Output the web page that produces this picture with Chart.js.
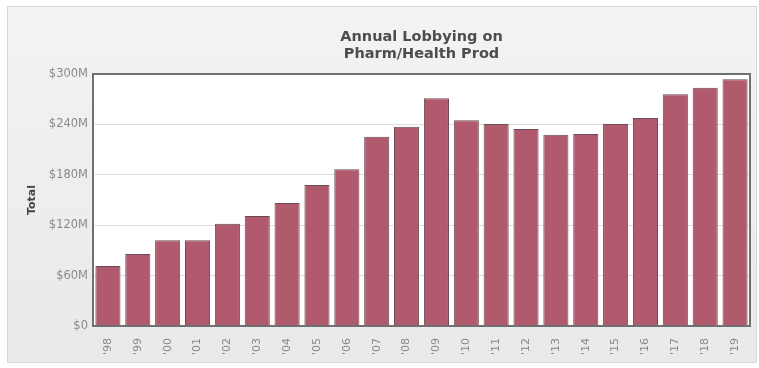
<!DOCTYPE html>
<html>
<head>
<meta charset="utf-8">
<script src="https://cdn.jsdelivr.net/npm/chart.js@4"></script>
<style>
  html, body { margin: 0; padding: 0; background: #fff; }
  #wrap { width: 759px; height: 368px; }
</style>
</head>
<body>
<div id="wrap"><canvas id="chart" width="759" height="368"></canvas></div>
<script>
// --- Daten ---
const years = ["'98","'99","'00","'01","'02","'03","'04","'05","'06","'07","'08",
               "'09","'10","'11","'12","'13","'14","'15","'16","'17","'18","'19"];
// Millionen USD
const totals = [71.4, 85.7, 102, 102, 121.8, 131, 146.4, 168, 186.5, 225.4, 237.3,
                271, 245, 240.5, 234.5, 227.8, 228.6, 240.5, 247.6, 275.8, 283.7, 293.7];
const yTicks = [0, 60, 120, 180, 240, 300];
const titleLines = ["Annual Lobbying on", "Pharm/Health Prod"];

const FONT = "'DejaVu Sans', Verdana, sans-serif";

// Hintergrund-Panel + weisse Plotfläche
const panelPlugin = {
    id: "panel",
    beforeDraw(chart){
        const {ctx, chartArea:a} = chart;
        ctx.save();
        const g = ctx.createLinearGradient(0, 6, 0, 363);
        g.addColorStop(0, "#f3f3f3");
        g.addColorStop(1, "#e9e9e9");
        ctx.fillStyle = g;
        ctx.fillRect(7, 6, 750, 357);
        ctx.strokeStyle = "#d6d6d6";
        ctx.lineWidth = 1;
        ctx.strokeRect(7.5, 6.5, 749, 356);
        ctx.fillStyle = "#ffffff";
        ctx.fillRect(a.left, a.top, a.right - a.left, a.bottom - a.top);
        ctx.restore();
    },
    afterDatasetsDraw(chart){
        const {ctx, chartArea:a} = chart;
        ctx.save();
        ctx.strokeStyle = "#707070";
        ctx.lineWidth = 2;
        ctx.strokeRect(a.left, a.top, a.right - a.left, a.bottom - a.top);
        ctx.restore();
    },
    afterDraw(chart){
        // Titel zentriert über der Plotfläche
        const {ctx, chartArea:a} = chart;
        ctx.save();
        ctx.fillStyle = "#4d4d4d";
        ctx.font = "bold 14.5px " + FONT;
        ctx.textAlign = "center";
        ctx.textBaseline = "alphabetic";
        const cx = (a.left + a.right) / 2;
        titleLines.forEach((t, i) => ctx.fillText(t, cx, 41 + i * 17));
        ctx.restore();
    }
};

new Chart(document.getElementById("chart"), {
    type: "bar",
    data: {
        labels: years,
        datasets: [{
            label: "Total",
            data: totals,
            backgroundColor: "#b15a6d",
            borderColor: "#6a4a53",
            borderWidth: 1,
            categoryPercentage: 1,
            barPercentage: 0.84
        }]
    },
    options: {
        responsive: false,
        animation: false,
        layout: {padding: {top: 74, right: 9, left: 20, bottom: 0}},
        plugins: {
            legend: {display: false},
            title: {display: false},
            tooltip: {enabled: false}
        },
        scales: {
            x: {
                grid: {display: false},
                border: {display: false},
                ticks: {
                    color: "#888",
                    font: {family: FONT, size: 11},
                    minRotation: 90,
                    maxRotation: 90,
                    padding: 4
                },
                afterFit(s){ s.height = 42; }
            },
            y: {
                min: 0,
                max: 300,
                afterBuildTicks(s){ s.ticks = yTicks.map(v => ({value: v})); },
                grid: {color: "#dcdcdc", drawTicks: false},
                border: {display: false},
                ticks: {
                    color: "#8a8a8a",
                    font: {family: FONT, size: 11.5},
                    padding: 5,
                    callback: v => v === 0 ? "$0" : "$" + v + "M"
                },
                title: {
                    display: true,
                    text: "Total",
                    color: "#444",
                    font: {family: FONT, size: 11, weight: "bold"},
                    padding: {top: 6, bottom: 0}
                },
                afterFit(s){ s.width = 73; }
            }
        }
    },
    plugins: [panelPlugin]
});
</script>
</body>
</html>
